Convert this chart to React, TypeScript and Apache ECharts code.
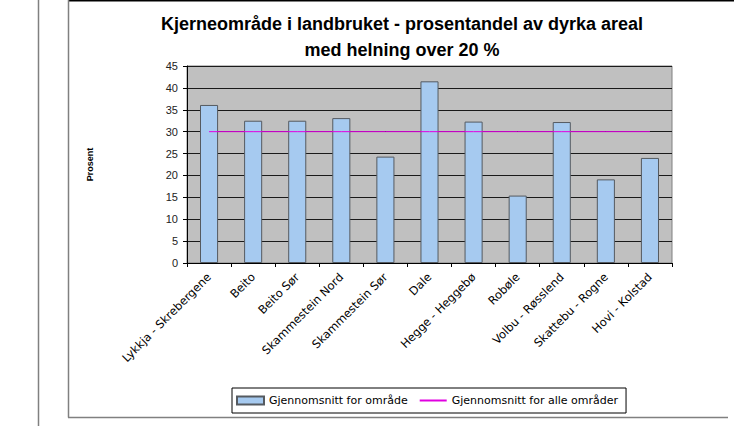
import React, { useEffect, useRef } from "react";
import * as echarts from "echarts";

const categories = [
  "Lykkja - Skrebergene",
  "Beito",
  "Beito Sør",
  "Skammestein Nord",
  "Skammestein Sør",
  "Dale",
  "Hegge - Heggebø",
  "Robøle",
  "Volbu - Røsslend",
  "Skattebu - Rogne",
  "Hovi - Kolstad",
];
const areaAverage = [36.1, 32.5, 32.5, 33.1, 24.3, 41.5, 32.3, 15.4, 32.2, 19.1, 24.0];
const overallAverage = [30, 30, 30, 30, 30, 30, 30, 30, 30, 30, 30];
const seriesNames = ["Gjennomsnitt for område", "Gjennomsnitt for alle områder"];
const titleLines = [
  "Kjerneområde i landbruket - prosentandel av dyrka areal",
  "med helning over 20 %",
];
const yAxisName = "Prosent";

const FONT = "Liberation Sans, Arial, sans-serif";
const WIDE = "DejaVu Sans, Verdana, sans-serif";

export default function App() {
  const ref = useRef<HTMLDivElement>(null);
  useEffect(() => {
    if (!ref.current) return;
    const chart = echarts.init(ref.current, null, { renderer: "svg" });
    chart.setOption({
      animation: false,
      backgroundColor: "#ffffff",
      textStyle: { fontFamily: FONT },
      graphic: [
        { type: "line", shape: { x1: 38.5, y1: 0, x2: 38.5, y2: 426 }, style: { stroke: "#808080", lineWidth: 1.5 } },
        { type: "line", shape: { x1: 68, y1: 0.5, x2: 734, y2: 0.5 }, style: { stroke: "#000000", lineWidth: 2 } },
        { type: "line", shape: { x1: 68.5, y1: 0, x2: 68.5, y2: 417.5 }, style: { stroke: "#808080", lineWidth: 1.5 } },
        { type: "line", shape: { x1: 68, y1: 417.5, x2: 728, y2: 417.5 }, style: { stroke: "#808080", lineWidth: 1.5 } },
        {
          type: "text",
          x: 402,
          y: 24,
          style: {
            text: titleLines[0],
            font: `bold 18px ${FONT}`,
            fill: "#000",
            textAlign: "center",
            textVerticalAlign: "middle",
          },
        },
        {
          type: "text",
          x: 402,
          y: 50,
          style: {
            text: titleLines[1],
            font: `bold 18px ${FONT}`,
            fill: "#000",
            textAlign: "center",
            textVerticalAlign: "middle",
          },
        },
      ],
      grid: { left: 187, right: 62, top: 66, bottom: 163, show: true, backgroundColor: "#C0C0C0", borderColor: "#808080", borderWidth: 1 },
      legend: {
        left: 232,
        top: 388,
        padding: [7, 8, 7, 4],
        borderColor: "#000",
        borderWidth: 1,
        itemWidth: 27,
        itemHeight: 8,
        itemGap: 11,
        textStyle: { fontSize: 11, color: "#000", fontFamily: WIDE },
        data: [
          { name: seriesNames[0], icon: "rect" },
          { name: seriesNames[1], itemStyle: { opacity: 0 } },
        ],
      },
      xAxis: {
        type: "category",
        data: categories,
        axisLine: { lineStyle: { color: "#000", width: 1 } },
        axisTick: { show: true, alignWithLabel: false, length: 4, lineStyle: { color: "#000" } },
        axisLabel: { rotate: 45, fontSize: 11.5, color: "#000", interval: 0, margin: 12, fontFamily: WIDE },
      },
      yAxis: {
        type: "value",
        min: 0,
        max: 45,
        interval: 5,
        name: yAxisName,
        nameLocation: "middle",
        nameRotate: 90,
        nameGap: 93,
        nameTextStyle: { fontSize: 9, fontWeight: "bold", color: "#000", fontFamily: FONT },
        axisLine: { show: true, lineStyle: { color: "#000", width: 1 } },
        axisTick: { show: true, length: 4, lineStyle: { color: "#000" } },
        axisLabel: { fontSize: 11, color: "#222", margin: 9, fontFamily: FONT },
        splitLine: { show: true, lineStyle: { color: "#1a1a1a", width: 1 } },
      },
      series: [
        {
          name: seriesNames[0],
          type: "bar",
          data: areaAverage,
          barWidth: "41%",
          itemStyle: { color: "#A6CAF0", borderColor: "#555a60", borderWidth: 1 },
        },
        {
          name: seriesNames[1],
          type: "line",
          data: overallAverage,
          symbol: "none",
          showSymbol: false,
          lineStyle: { color: "#E000E0", width: 1 },
          itemStyle: { color: "#FF66FF" },
          z: 3,
        },
      ],
    });
    return () => chart.dispose();
  }, []);
  return (
    <div
      ref={ref}
      style={{ position: "fixed", left: 0, top: 0, width: 734, height: 426 }}
    />
  );
}
